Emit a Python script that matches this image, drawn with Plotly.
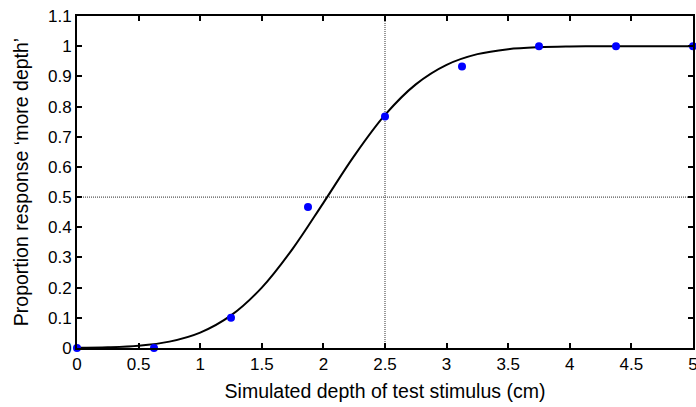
import plotly.graph_objects as go

# Observed data
depth = [0, 0.625, 1.25, 1.875, 2.5, 3.125, 3.75, 4.375, 5]
proportion = [0, 0, 0.1, 0.467, 0.767, 0.933, 1, 1, 1]

# Fitted psychometric curve
fit_x = [0, 0.25, 0.5, 0.75, 1.0, 1.25, 1.5, 1.75, 2.0, 2.25, 2.5, 2.75,
         3.0, 3.25, 3.5, 3.75, 4.0, 4.25, 4.5, 4.75, 5.0]
fit_y = [0.0006, 0.0024, 0.0076, 0.0211, 0.051, 0.1079, 0.2001, 0.3285,
         0.481, 0.6365, 0.7722, 0.8735, 0.9382, 0.9736, 0.9902, 0.9968,
         0.9991, 0.9998, 1.0, 1.0, 1.0]

threshold_x = 2.5
threshold_y = 0.5

x_ticks = [0, 0.5, 1, 1.5, 2, 2.5, 3, 3.5, 4, 4.5, 5]
y_ticks = [0, 0.1, 0.2, 0.3, 0.4, 0.5, 0.6, 0.7, 0.8, 0.9, 1, 1.1]

FONT = "Liberation Sans, Arial, Helvetica"

fig = go.Figure()
fig.add_trace(go.Scatter(x=fit_x, y=fit_y, mode="lines",
                         line=dict(color="black", width=2, shape="spline"),
                         cliponaxis=False, showlegend=False))
fig.add_trace(go.Scatter(x=depth, y=proportion, mode="markers",
                         marker=dict(color="#0000ff", size=8),
                         cliponaxis=False, showlegend=False))

fig.add_shape(type="line", xref="x", yref="y", x0=threshold_x, x1=threshold_x,
              y0=0, y1=1.1, line=dict(color="#555555", width=1.2, dash="1px,1px"),
              layer="below")
fig.add_shape(type="line", xref="x", yref="y", x0=0, x1=5,
              y0=threshold_y, y1=threshold_y,
              line=dict(color="#555555", width=1.2, dash="1px,1px"), layer="below")

axis_common = dict(showline=True, linecolor="black", linewidth=2, mirror="ticks",
                   ticks="inside", ticklen=5, tickwidth=1.5, tickcolor="black",
                   showgrid=False, zeroline=False, automargin=False,
                   ticklabeloverflow="allow",
                   tickfont=dict(family=FONT, size=17, color="black"))

fig.update_xaxes(range=[0, 5], tickvals=x_ticks,
                 ticktext=[f"{v:g}" for v in x_ticks],
                 title=dict(text="Simulated depth of test stimulus (cm)",
                            font=dict(family=FONT, size=19.5, color="black"),
                            standoff=11),
                 **axis_common)
fig.update_yaxes(range=[0, 1.1], tickvals=y_ticks,
                 ticktext=[f"{v:g}" for v in y_ticks],
                 title=dict(text="Proportion response \u2018more depth\u2019",
                            font=dict(family=FONT, size=19.5, color="black"),
                            standoff=14),
                 **axis_common)

fig.update_layout(width=696, height=407,
                  margin=dict(l=77, r=3, t=16, b=59),
                  plot_bgcolor="white", paper_bgcolor="white")

fig.write_html("out.html", config={"displayModeBar": False},
               post_script="document.body.style.margin='0';document.body.style.overflow='hidden';")
